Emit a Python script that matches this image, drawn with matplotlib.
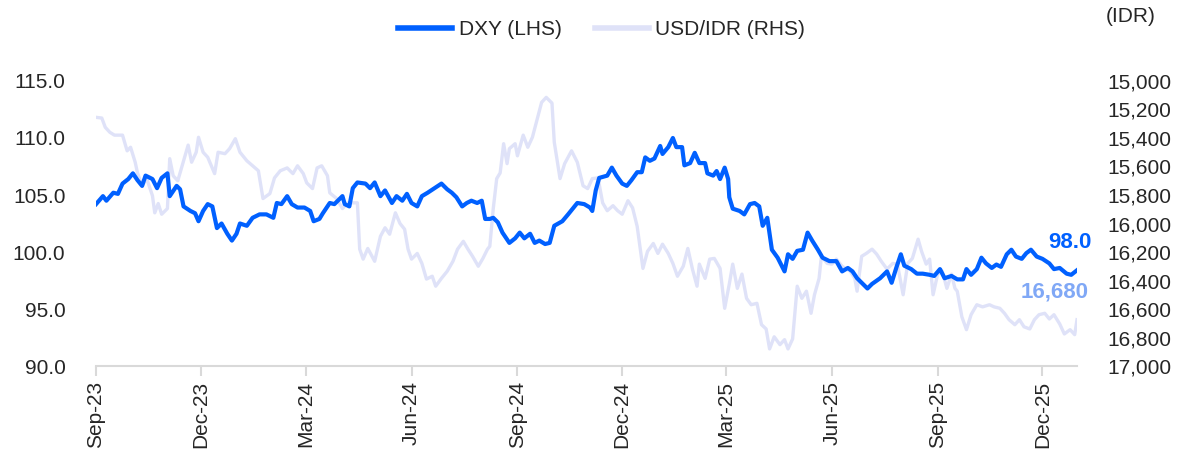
import matplotlib
matplotlib.use("Agg")
import matplotlib.pyplot as plt
import matplotlib.dates as mdates
import matplotlib.ticker as mticker
import pandas as pd

plt.rcParams['font.family'] = ['Liberation Sans Narrow', 'Liberation Sans', 'DejaVu Sans']

# DXY (left axis)
dxy_dates = [
    "2023-09-01", "2023-09-07", "2023-09-10", "2023-09-16", "2023-09-20", "2023-09-24", "2023-09-29",
    "2023-10-03", "2023-10-07", "2023-10-11", "2023-10-14", "2023-10-20", "2023-10-24", "2023-10-28",
    "2023-11-02", "2023-11-04", "2023-11-10", "2023-11-13", "2023-11-16", "2023-11-22", "2023-11-26",
    "2023-11-29", "2023-12-03", "2023-12-07", "2023-12-11", "2023-12-15", "2023-12-19", "2023-12-24",
    "2023-12-28", "2024-01-01", "2024-01-04", "2024-01-10", "2024-01-15", "2024-01-21", "2024-01-27",
    "2024-02-02", "2024-02-05", "2024-02-09", "2024-02-14", "2024-02-18", "2024-02-23", "2024-02-29",
    "2024-03-05", "2024-03-08", "2024-03-13", "2024-03-16", "2024-03-22", "2024-03-26", "2024-04-02",
    "2024-04-04", "2024-04-08", "2024-04-11", "2024-04-15", "2024-04-22", "2024-04-26", "2024-04-30",
    "2024-05-05", "2024-05-09", "2024-05-15", "2024-05-19", "2024-05-24", "2024-05-28", "2024-06-01",
    "2024-06-06", "2024-06-10", "2024-06-15", "2024-06-21", "2024-06-27", "2024-07-02", "2024-07-06",
    "2024-07-10", "2024-07-15", "2024-07-19", "2024-07-23", "2024-07-28", "2024-08-01", "2024-08-04",
    "2024-08-08", "2024-08-11", "2024-08-15", "2024-08-19", "2024-08-25", "2024-08-30", "2024-09-03",
    "2024-09-07", "2024-09-12", "2024-09-16", "2024-09-20", "2024-09-25", "2024-09-29", "2024-10-03",
    "2024-10-10", "2024-10-15", "2024-10-19", "2024-10-23", "2024-10-29", "2024-11-03", "2024-11-05",
    "2024-11-08", "2024-11-11", "2024-11-18", "2024-11-22", "2024-11-26", "2024-12-01", "2024-12-05",
    "2024-12-09", "2024-12-14", "2024-12-18", "2024-12-21", "2024-12-25", "2024-12-29", "2025-01-03",
    "2025-01-05", "2025-01-10", "2025-01-14", "2025-01-17", "2025-01-22", "2025-01-24", "2025-01-29",
    "2025-02-02", "2025-02-06", "2025-02-11", "2025-02-13", "2025-02-18", "2025-02-21", "2025-02-24",
    "2025-02-28", "2025-03-03", "2025-03-04", "2025-03-07", "2025-03-13", "2025-03-17", "2025-03-22",
    "2025-03-26", "2025-03-30", "2025-04-02", "2025-04-06", "2025-04-10", "2025-04-15", "2025-04-21",
    "2025-04-24", "2025-04-28", "2025-05-02", "2025-05-07", "2025-05-11", "2025-05-15", "2025-05-20",
    "2025-05-24", "2025-05-30", "2025-06-05", "2025-06-10", "2025-06-15", "2025-06-19", "2025-06-23",
    "2025-06-28", "2025-07-02", "2025-07-06", "2025-07-13", "2025-07-19", "2025-07-23", "2025-07-27",
    "2025-07-31", "2025-08-03", "2025-08-09", "2025-08-14", "2025-08-19", "2025-08-25", "2025-08-29",
    "2025-09-03", "2025-09-07", "2025-09-13", "2025-09-18", "2025-09-23", "2025-09-26", "2025-09-30",
    "2025-10-05", "2025-10-09", "2025-10-13", "2025-10-18", "2025-10-22", "2025-10-26", "2025-10-31",
    "2025-11-04", "2025-11-08", "2025-11-13", "2025-11-17", "2025-11-21", "2025-11-26", "2025-12-01",
    "2025-12-07", "2025-12-11", "2025-12-16", "2025-12-22", "2025-12-26", "2025-12-31",
]
dxy_values = [
    104.2, 104.9, 104.5, 105.2, 105.1, 106.0, 106.4,
    106.9, 106.3, 105.8, 106.7, 106.4, 105.6, 106.5,
    106.9, 104.9, 105.8, 105.5, 104.0, 103.6, 103.4,
    102.7, 103.6, 104.2, 104.0, 102.1, 102.5, 101.6,
    101.0, 101.6, 102.5, 102.3, 103.0, 103.3, 103.3,
    103.0, 104.3, 104.2, 104.9, 104.2, 103.9, 103.9,
    103.6, 102.7, 102.9, 103.4, 104.3, 104.2, 104.9,
    104.2, 104.0, 105.6, 106.1, 106.0, 105.6, 106.1,
    104.9, 105.4, 104.3, 104.9, 104.5, 105.1, 104.3,
    104.0, 104.9, 105.2, 105.6, 106.0, 105.5, 105.2,
    104.8, 104.0, 104.3, 104.5, 104.3, 104.5, 102.9,
    102.9, 103.0, 102.6, 101.7, 100.8, 101.2, 101.7,
    101.2, 101.6, 100.8, 101.0, 100.7, 100.8, 102.3,
    102.7, 103.3, 103.8, 104.3, 104.2, 103.9, 103.6,
    105.4, 106.5, 106.7, 107.4, 106.7, 106.0, 105.8,
    106.3, 107.0, 107.0, 108.3, 108.0, 108.2, 109.3,
    108.6, 109.2, 110.0, 109.2, 109.2, 107.6, 107.8,
    108.7, 107.8, 107.8, 106.9, 106.7, 107.1, 106.4,
    107.4, 106.4, 104.8, 103.8, 103.6, 103.3, 104.2,
    104.3, 104.0, 102.3, 103.0, 100.2, 99.5, 98.3,
    99.8, 99.4, 100.1, 100.2, 101.7, 101.0, 100.2,
    99.5, 99.2, 99.2, 98.3, 98.6, 98.3, 97.7,
    97.2, 96.8, 97.2, 97.7, 98.3, 97.3, 98.6,
    99.8, 98.8, 98.5, 98.1, 98.1, 98.0, 97.9,
    98.5, 97.7, 97.9, 97.6, 97.6, 98.5, 98.0,
    98.5, 99.5, 99.0, 98.6, 98.9, 98.7, 99.8,
    100.2, 99.6, 99.4, 99.9, 100.2, 99.6, 99.4,
    99.0, 98.5, 98.6, 98.1, 98.0, 98.4,
]

# USD/IDR (right axis, inverted)
idr_dates = [
    "2023-09-01", "2023-09-06", "2023-09-09", "2023-09-13", "2023-09-17", "2023-09-24", "2023-09-28",
    "2023-10-01", "2023-10-05", "2023-10-07", "2023-10-11", "2023-10-15", "2023-10-20", "2023-10-22",
    "2023-10-25", "2023-10-28", "2023-11-02", "2023-11-04", "2023-11-07", "2023-11-11", "2023-11-16",
    "2023-11-20", "2023-11-23", "2023-11-27", "2023-11-29", "2023-12-03", "2023-12-07", "2023-12-13",
    "2023-12-16", "2023-12-22", "2023-12-26", "2023-12-31", "2024-01-04", "2024-01-10", "2024-01-15",
    "2024-01-20", "2024-01-24", "2024-01-30", "2024-02-03", "2024-02-08", "2024-02-14", "2024-02-19",
    "2024-02-23", "2024-02-28", "2024-03-02", "2024-03-07", "2024-03-11", "2024-03-15", "2024-03-20",
    "2024-03-22", "2024-03-28", "2024-04-02", "2024-04-07", "2024-04-15", "2024-04-17", "2024-04-20",
    "2024-04-24", "2024-04-30", "2024-05-05", "2024-05-09", "2024-05-13", "2024-05-18", "2024-05-22",
    "2024-05-26", "2024-05-29", "2024-06-01", "2024-06-06", "2024-06-10", "2024-06-14", "2024-06-19",
    "2024-06-22", "2024-06-27", "2024-07-02", "2024-07-07", "2024-07-11", "2024-07-16", "2024-07-20",
    "2024-07-24", "2024-07-29", "2024-08-02", "2024-08-06", "2024-08-08", "2024-08-11", "2024-08-14",
    "2024-08-17", "2024-08-20", "2024-08-23", "2024-08-25", "2024-08-30", "2024-09-01", "2024-09-06",
    "2024-09-10", "2024-09-14", "2024-09-19", "2024-09-22", "2024-09-26", "2024-10-01", "2024-10-03",
    "2024-10-08", "2024-10-12", "2024-10-18", "2024-10-23", "2024-10-28", "2024-11-01", "2024-11-05",
    "2024-11-10", "2024-11-14", "2024-11-18", "2024-11-23", "2024-11-27", "2024-12-01", "2024-12-06",
    "2024-12-10", "2024-12-14", "2024-12-19", "2024-12-23", "2024-12-28", "2025-01-01", "2025-01-05",
    "2025-01-10", "2025-01-14", "2025-01-18", "2025-01-23", "2025-01-27", "2025-01-31", "2025-02-04",
    "2025-02-06", "2025-02-11", "2025-02-15", "2025-02-19", "2025-02-24", "2025-02-28", "2025-03-04",
    "2025-03-07", "2025-03-11", "2025-03-15", "2025-03-19", "2025-03-23", "2025-03-28", "2025-04-01",
    "2025-04-05", "2025-04-08", "2025-04-12", "2025-04-17", "2025-04-21", "2025-04-24", "2025-04-28",
    "2025-05-02", "2025-05-06", "2025-05-10", "2025-05-14", "2025-05-17", "2025-05-21", "2025-05-23",
    "2025-05-28", "2025-06-01", "2025-06-05", "2025-06-10", "2025-06-17", "2025-06-21", "2025-06-23",
    "2025-06-27", "2025-07-01", "2025-07-06", "2025-07-10", "2025-07-14", "2025-07-19", "2025-07-24",
    "2025-07-28", "2025-08-02", "2025-08-06", "2025-08-10", "2025-08-15", "2025-08-18", "2025-08-22",
    "2025-08-25", "2025-08-28", "2025-09-01", "2025-09-05", "2025-09-09", "2025-09-13", "2025-09-16",
    "2025-09-18", "2025-09-22", "2025-09-26", "2025-09-30", "2025-10-05", "2025-10-10", "2025-10-16",
    "2025-10-20", "2025-10-25", "2025-10-29", "2025-11-02", "2025-11-07", "2025-11-11", "2025-11-15",
    "2025-11-20", "2025-11-24", "2025-11-28", "2025-12-03", "2025-12-07", "2025-12-11", "2025-12-16",
    "2025-12-20", "2025-12-25", "2025-12-29", "2025-12-31",
]
idr_values = [
    15255, 15260, 15325, 15360, 15380, 15380, 15490,
    15465, 15570, 15645, 15735, 15685, 15805, 15925,
    15860, 15935, 15895, 15545, 15665, 15700, 15560,
    15450, 15570, 15500, 15395, 15500, 15535, 15650,
    15500, 15510, 15475, 15405, 15500, 15560, 15595,
    15630, 15825, 15790, 15680, 15630, 15610, 15650,
    15595, 15650, 15715, 15755, 15610, 15595, 15665,
    15785, 15825, 15895, 15855, 15855, 16180, 16250,
    16175, 16265, 16090, 16030, 16075, 15925, 16000,
    16040, 16180, 16250, 16210, 16280, 16390, 16370,
    16440, 16385, 16335, 16265, 16180, 16125, 16180,
    16230, 16300, 16245, 16180, 16160, 15895, 15685,
    15645, 15440, 15580, 15475, 15440, 15525, 15380,
    15465, 15395, 15240, 15150, 15115, 15155, 15430,
    15685, 15580, 15490, 15570, 15735, 15755, 15685,
    15680, 15855, 15910, 15875, 15910, 15935, 15840,
    15890, 16020, 16315, 16195, 16140, 16210, 16145,
    16210, 16280, 16370, 16300, 16175, 16320, 16440,
    16285, 16385, 16250, 16245, 16315, 16595, 16425,
    16285, 16455, 16355, 16525, 16570, 16560, 16710,
    16740, 16880, 16795, 16850, 16815, 16880, 16810,
    16440, 16525, 16475, 16630, 16500, 16385, 16230,
    16280, 16285, 16250, 16300, 16335, 16385, 16475,
    16230, 16210, 16180, 16215, 16265, 16320, 16280,
    16285, 16500, 16280, 16245, 16110, 16195, 16285,
    16250, 16500, 16355, 16335, 16455, 16355, 16455,
    16475, 16655, 16745, 16640, 16570, 16585, 16570,
    16585, 16595, 16630, 16675, 16710, 16675, 16725,
    16740, 16675, 16640, 16630, 16670, 16640, 16705,
    16775, 16745, 16780, 16675,
]

dxy_last_label = "98.0"
idr_last_label = "16,680"

dxy_color = "#0060ff"
idr_color = "#dfe2f8"
idr_label_color = "#80a8f6"
text_color = "#262626"
axis_gray = "#d9d9d9"

dxy_x = pd.to_datetime(dxy_dates)
idr_x = pd.to_datetime(idr_dates)

fig = plt.figure(figsize=(11.96, 4.54), dpi=100)
ax = fig.add_axes([0.0803, 0.1938, 0.8202, 0.6278])
ax_r = ax.twinx()
ax.set_zorder(ax_r.get_zorder() + 1)
ax.patch.set_visible(False)

l_idr, = ax_r.plot(idr_x, idr_values, color=idr_color, lw=2.4, solid_joinstyle='round')
l_dxy, = ax.plot(dxy_x, dxy_values, color=dxy_color, lw=3.0, solid_joinstyle='round')

ax.set_ylim(90, 115)
ax.set_yticks([90, 95, 100, 105, 110, 115])
ax.yaxis.set_major_formatter(mticker.FuncFormatter(lambda v, p: f"{v:.1f}"))
ax_r.set_ylim(17000, 15000)
ax_r.set_yticks(range(15000, 17001, 200))
ax_r.yaxis.set_major_formatter(mticker.FuncFormatter(lambda v, p: f"{v:,.0f}"))

ax.set_xlim(pd.Timestamp("2023-09-01"), pd.Timestamp("2025-12-31"))
ax.set_xticks(pd.date_range("2023-09-01", "2025-12-01", freq="3MS"))
ax.xaxis.set_major_formatter(mdates.DateFormatter("%b-%y"))

for a in (ax, ax_r):
    for s in a.spines.values():
        s.set_visible(False)
ax.spines['bottom'].set_visible(True)
ax.spines['bottom'].set_color(axis_gray)
ax.spines['bottom'].set_linewidth(1.5)

ax.tick_params(axis='x', colors=axis_gray, length=7, width=1.5, labelcolor=text_color,
               labelsize=15, labelrotation=90, pad=4)
ax.tick_params(axis='y', length=0, labelsize=15, labelcolor=text_color, pad=22)
ax_r.tick_params(axis='y', length=0, labelsize=15, labelcolor=text_color, pad=22)

ax.annotate(dxy_last_label, xy=(dxy_x[-1], dxy_values[-1]), xytext=(-5, 20),
            textcoords='offset points', ha='center', va='center',
            color=dxy_color, fontsize=16, fontweight='bold')
ax_r.annotate(idr_last_label, xy=(idr_x[-1], idr_values[-1]), xytext=(-16, 20),
              textcoords='offset points', ha='center', va='center',
              color=idr_label_color, fontsize=16, fontweight='bold')

fig.text(0.945, 0.963, "(IDR)", ha='center', va='center', fontsize=15, color=text_color)

fig.legend([l_dxy, l_idr], ["DXY (LHS)", "USD/IDR (RHS)"], loc='center',
           bbox_to_anchor=(0.503, 0.934), ncol=2, frameon=False, fontsize=15,
           handlelength=2.6, handletextpad=0.3, columnspacing=1.6, labelcolor=text_color)
for h in fig.legends[0].get_lines():
    h.set_linewidth(4)

fig.savefig("out.png", dpi=100)
